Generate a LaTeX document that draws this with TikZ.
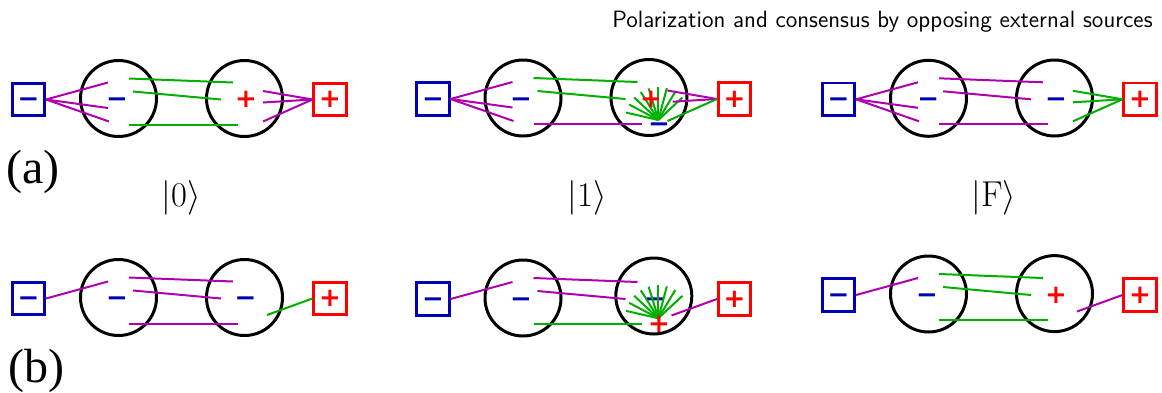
\documentclass[tikz,border=0pt]{standalone}
\usepackage{fontspec}
\newfontfamily\signfont{DejaVu Sans}
\newfontfamily\labfont{Liberation Serif}
\definecolor{cblue}{RGB}{0,0,180}
\definecolor{cred}{RGB}{255,0,0}
\definecolor{cmag}{RGB}{175,0,175}
\definecolor{cgreen}{RGB}{0,175,0}
\tikzset{
  agent/.style={circle,draw=black,line width=1.5pt,minimum size=38pt,inner sep=0pt},
  sgnfont/.style={font=\signfont\bfseries\fontsize{13}{13}\selectfont},
  srcneg/.style={rectangle,draw=cblue,line width=1.35pt,minimum size=16.2pt,inner sep=0pt,text=cblue,sgnfont},
  srcpos/.style={rectangle,draw=cred,line width=1.35pt,minimum size=16.2pt,inner sep=0pt,text=cred,sgnfont},
  negsign/.style={inner sep=0pt,text=cblue,sgnfont},
  possign/.style={inner sep=0pt,text=cred,sgnfont},
  plink/.style={draw=cmag,line width=1pt},
  glink/.style={draw=cgreen,line width=1pt},
  frame/.pic={
    \node[agent] (-c1) at (0,0) {};
    \node[srcneg] (-s) at (-90,1) {\vphantom{+}−};
    \node[srcpos] (-r) at (211.5,1) {+};
    \coordinate (-l1) at (-10.5,-16);
    \coordinate (-l2) at (-10.5,9.5);
    \coordinate (-l3) at (-9.5,23);
    \coordinate (-p1) at (10.5,-20);
    \coordinate (-q1) at (114.5,-16);
    \coordinate (-p2) at (14.5,-7);
    \coordinate (-q2) at (102.5,1);
    \coordinate (-p3) at (10.5,26);
    \coordinate (-q3) at (119,26);
    \coordinate (-r1) at (144.5,-7.5);
    \coordinate (-r2) at (144.5,4);
    \coordinate (-r3) at (144.5,23);
    \coordinate (-rb) at (148.5,17.5);
  }
}
\begin{document}
\begin{tikzpicture}[x=0.5pt,y=-0.5pt]
\useasboundingbox (0,0) rectangle (1162,392);

% title
\node[anchor=base east,inner sep=0pt,font=\sffamily\fontsize{11.8}{13}\selectfont] (title) at (1153,27)
  {Polarization and consensus by opposing external sources};

% labels
\node[anchor=base west,inner sep=0pt,font=\labfont\fontsize{24}{26}\selectfont] (la) at (6,183) {(a)};
\node[anchor=base west,inner sep=0pt,font=\labfont\fontsize{24}{26}\selectfont] (lb) at (8,382) {(b)};
\node[font=\fontsize{18}{20}\selectfont] (k0) at (181,198) {$|0\rangle$};
\node[font=\fontsize{18}{20}\selectfont] (k1) at (587,198) {$|1\rangle$};
\node[font=\fontsize{18}{20}\selectfont] (kF) at (994,198) {$|\mathrm{F}\rangle$};

% ---------- (a) left: |0>
\begin{scope}[shift={(118.5,98.5)}]
\pic (aL) at (0,0) {frame};
\node[agent] (aL-c2) at (126,0) {};
\draw[plink] (aL-s.east) -- (aL-l1);
\draw[plink] (aL-s.east) -- (aL-l2);
\draw[plink] (aL-s.east) -- (aL-l3);
\draw[glink] (aL-p1) -- (aL-q1);
\draw[glink] (aL-p2) -- (aL-q2);
\draw[glink] (aL-p3) -- (aL-q3);
\draw[plink] (aL-r.west) -- (aL-r1);
\draw[plink] (aL-r.west) -- (aL-r2);
\draw[plink] (aL-r.west) -- (aL-r3);
\node[negsign] (aL-o1) at (-1.5,1) {\vphantom{+}−};
\node[possign] (aL-o2) at (127.5,1) {+};
\end{scope}

% ---------- (a) middle: |1>
\begin{scope}[shift={(523,98)}]
\pic (aM) at (0,0) {frame};
\node[agent] (aM-c2) at (126,-0.5) {};
\coordinate (aM-r2x) at (149.7,3.7);
\coordinate (aM-fan) at (135.3,22);
\draw[plink] (aM-s.east) -- (aM-l1);
\draw[plink] (aM-s.east) -- (aM-l2);
\draw[plink] (aM-s.east) -- (aM-l3);
\draw[glink] (aM-p1) -- (aM-q1);
\draw[glink] (aM-p2) -- (aM-q2);
\draw[plink] (aM-p3) -- (aM-q3);
\foreach \a in {167,152,137,122,107,90,75,59,43}
  \draw[glink] (aM-fan) -- ++(-\a:33);
\draw[plink] (aM-r.west) -- (aM-r1);
\draw[plink] (aM-r.west) -- (aM-r2x);
\draw[glink] (aM-r.west) -- (aM-r3);
\node[negsign] (aM-o1) at (-2,1.3) {\vphantom{+}−};
\node[possign] (aM-o2) at (128,1.3) {+};
\node[negsign] (aM-o3) at (136,26.3) {\vphantom{+}−};
\end{scope}

% ---------- (a) right: |F>
\begin{scope}[shift={(928.5,98.3)}]
\pic (aR) at (0,0) {frame};
\node[agent] (aR-c2) at (126,-0.3) {};
\draw[plink] (aR-s.east) -- (aR-l1);
\draw[plink] (aR-s.east) -- (aR-l2);
\draw[plink] (aR-s.east) -- (aR-l3);
\draw[plink] (aR-p1) -- (aR-q1);
\draw[plink] (aR-p2) -- (aR-q2);
\draw[plink] (aR-p3) -- (aR-q3);
\draw[glink] (aR-r.west) -- (aR-r1);
\draw[glink] (aR-r.west) -- (aR-r2);
\draw[glink] (aR-r.west) -- (aR-r3);
\node[negsign] (aR-o1) at (-0.2,1) {\vphantom{+}−};
\node[negsign] (aR-o2) at (127.5,1) {\vphantom{+}−};
\end{scope}

% ---------- (b) left
\begin{scope}[shift={(118.5,297.5)}]
\pic (bL) at (0,0) {frame};
\node[agent] (bL-c2) at (126,0) {};
\draw[plink] (bL-s.east) -- (bL-l1);
\draw[plink] (bL-p1) -- (bL-q1);
\draw[plink] (bL-p2) -- (bL-q2);
\draw[plink] (bL-p3) -- (bL-q3);
\draw[glink] (bL-r.west) -- (bL-rb);
\node[negsign] (bL-o1) at (-1.5,1) {\vphantom{+}−};
\node[negsign] (bL-o2) at (127,1) {\vphantom{+}−};
\end{scope}

% ---------- (b) middle
\begin{scope}[shift={(523,298)}]
\pic (bM) at (0,0) {frame};
\node[agent] (bM-c2) at (130.8,-2) {};
\coordinate (bM-fan) at (135.3,20.3);
\draw[plink] (bM-s.east) -- (bM-l1);
\draw[plink] (bM-p1) -- (bM-q1);
\draw[plink] (bM-p2) -- (bM-q2);
\draw[glink] (bM-p3) -- (bM-q3);
\node[negsign] (bM-o2) at (132,1.3) {\vphantom{+}−};
\foreach \a in {167,152,137,122,107,90,75,59,43}
  \draw[glink] (bM-fan) -- ++(-\a:33);
\draw[plink] (bM-r.west) -- (bM-rb);
\node[negsign] (bM-o1) at (-2,1.3) {\vphantom{+}−};
\node[possign] (bM-o3) at (136,26) {+};
\end{scope}

% ---------- (b) right
\begin{scope}[shift={(928.5,294)}]
\pic (bR) at (0,0) {frame};
\node[agent] (bR-c2) at (126,-0.4) {};
\draw[plink] (bR-s.east) -- (bR-l1);
\draw[glink] (bR-p1) -- (bR-q1);
\draw[glink] (bR-p2) -- (bR-q2);
\draw[glink] (bR-p3) -- (bR-q3);
\draw[plink] (bR-r.west) -- (bR-rb);
\node[negsign] (bR-o1) at (-1.5,1) {\vphantom{+}−};
\node[possign] (bR-o2) at (127.5,1) {+};
\end{scope}
\end{tikzpicture}
\end{document}
